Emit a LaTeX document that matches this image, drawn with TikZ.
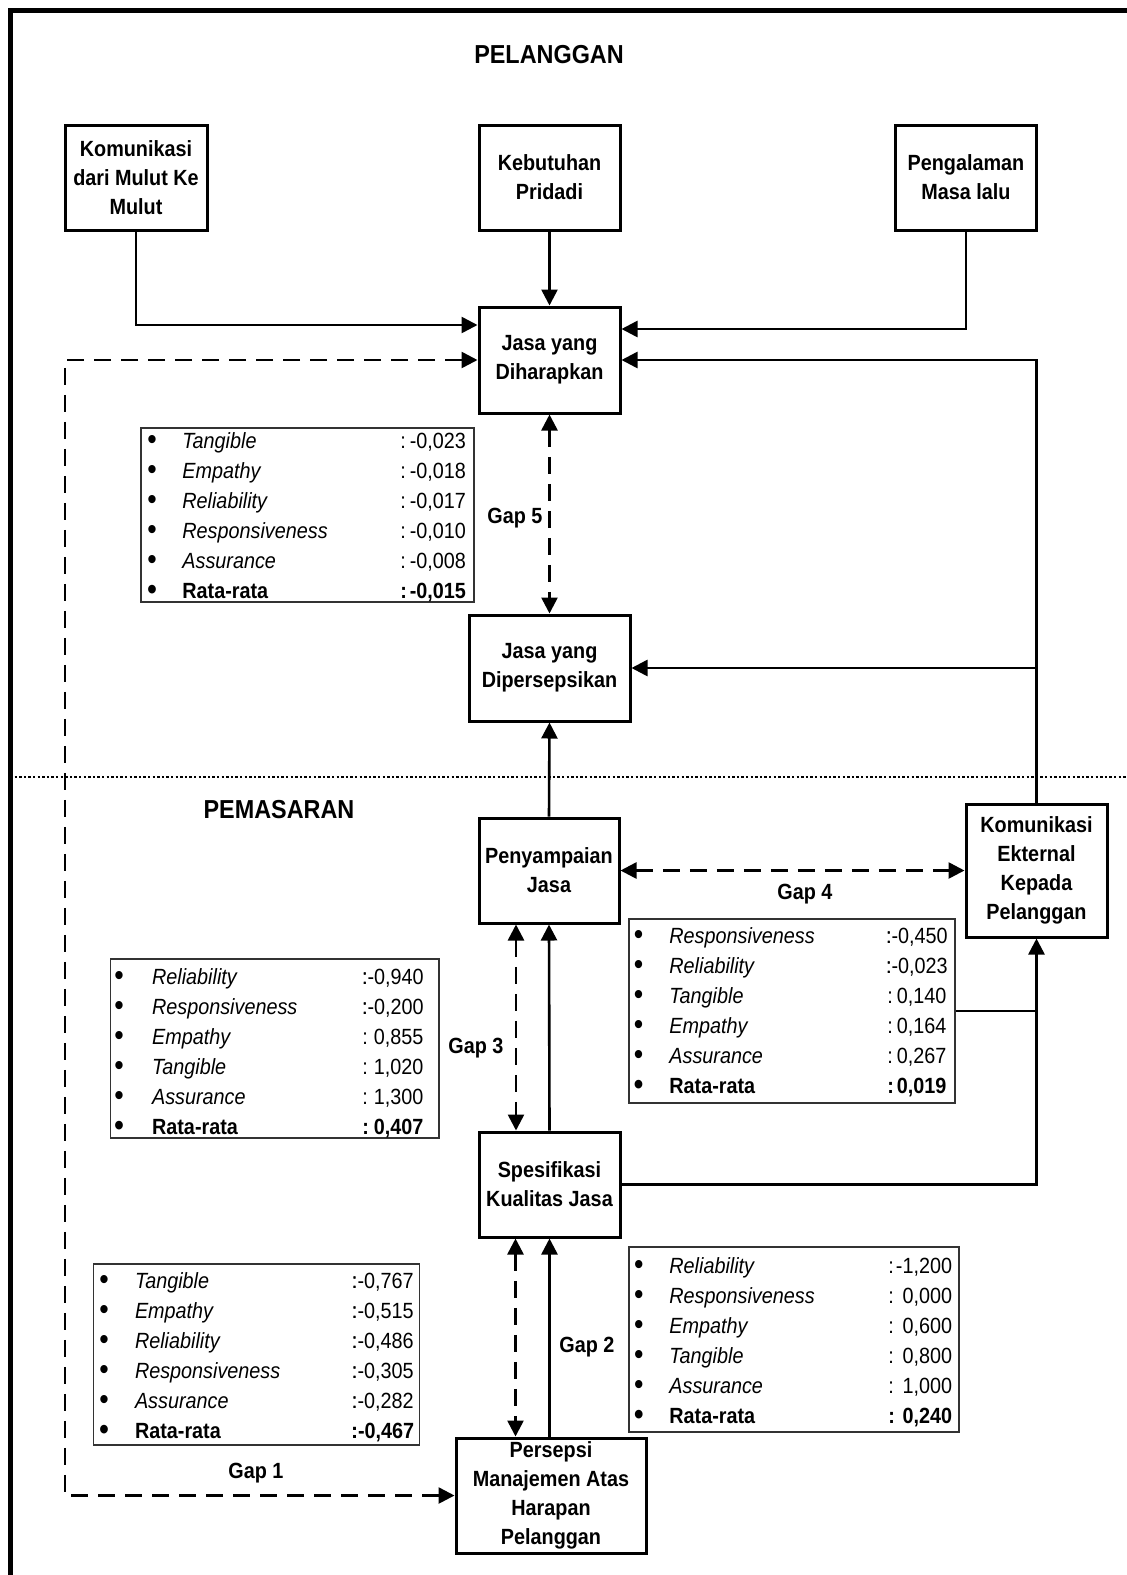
\documentclass[tikz,border=0pt]{standalone}
\usepackage{fontspec}
\setmainfont{Liberation Sans}[FakeStretch=0.9]
\usetikzlibrary{arrows.meta}
\newlength\bwid \newlength\nwid \newlength\cwid
\newcommand\tabset[3]{\setlength\bwid{#1pt}\setlength\nwid{#2pt}\setlength\cwid{#3pt}}
\newcommand\bigbul{\raisebox{-0.9pt}{\fontsize{15}{15}\selectfont\textbullet}}
\newcommand\trow[2]{\makebox[\bwid][l]{\bigbul}\makebox[\nwid][l]{\itshape #1}\makebox[\cwid]{:\hfill #2}}
\newcommand\brow[2]{\bfseries\makebox[\bwid][l]{\bigbul}\makebox[\nwid][l]{#1}\makebox[\cwid]{:\hfill #2}}
\begin{document}
\begin{tikzpicture}[x=0.5pt,y=-0.5pt,
  blk/.style={draw, line width=1.5pt, inner sep=0pt, align=center, font=\bfseries\fontsize{11}{14.5}\selectfont},
  tbl/.style={draw=black!80, line width=0.7pt, inner sep=0pt},
  ttxt/.style={anchor=base west, inner sep=0pt, font=\fontsize{11}{15}\selectfont},
  conn/.style={line width=1.3pt, -{Triangle[length=8pt,width=8pt]}},
  dconn/.style={line width=1.3pt, dash pattern=on 8.5pt off 5pt, {Triangle[length=8pt,width=8pt]}-{Triangle[length=8pt,width=8pt]}},
  lbl/.style={font=\bfseries\fontsize{11}{13}\selectfont, inner sep=0pt},
  ttl/.style={font=\bfseries\fontsize{13}{15}\selectfont, inner sep=0pt}]
\useasboundingbox (0,0) rectangle (1127,1575);
% frame and separator
\draw[line width=2.5pt] (10,1590) -- (10,10) -- (1140,10);
\draw[line width=1.4pt, dash pattern=on 1.2pt off 1.1pt] (10,777) -- (1127,777);
% titles
\node[ttl] (pel) at (549,55) {PELANGGAN};
\node[ttl] (pem) at (279,810) {PEMASARAN};
% boxes
\node[blk, minimum width=71pt, minimum height=52.5pt] (kom) at (136,177.5) {Komunikasi\\dari Mulut Ke\\Mulut};
\node[blk, minimum width=70.5pt, minimum height=52.5pt] (keb) at (549.5,177.5) {Kebutuhan\\Pridadi};
\node[blk, minimum width=70.5pt, minimum height=52.5pt] (pen) at (966,177.5) {Pengalaman\\Masa lalu};
\node[blk, minimum width=70.5pt, minimum height=53pt] (har) at (549.5,360) {Jasa yang\\Diharapkan};
\node[blk, minimum width=80.5pt, minimum height=53pt] (per) at (549.5,668) {Jasa yang\\Dipersepsikan};
\node[blk, minimum width=70pt, minimum height=52.5pt] (sam) at (549,870.5) {Penyampaian\\Jasa};
\node[blk, minimum width=70.5pt, minimum height=66.5pt] (ekt) at (1036.5,870.5) {Komunikasi\\Ekternal\\Kepada\\Pelanggan};
\node[blk, minimum width=70.5pt, minimum height=52.5pt] (spe) at (549.5,1184.5) {Spesifikasi\\Kualitas Jasa};
\node[blk, minimum width=95pt, minimum height=57.5pt] (psp) at (551,1495.5) {Persepsi\\Manajemen Atas\\Harapan\\Pelanggan};
% tables
\node[tbl, minimum width=166.5pt, minimum height=87pt] (t5) at (307.5,515) {};
\node[ttxt] (t5x) at (147,448) {\tabset{17.5}{109}{32.8}\begin{tabular}[t]{@{}l@{}}
\trow{Tangible}{-0,023}\\ \trow{Empathy}{-0,018}\\ \trow{Reliability}{-0,017}\\
\trow{Responsiveness}{-0,010}\\ \trow{Assurance}{-0,008}\\ \brow{Rata-rata}{-0,015}\end{tabular}};
\node[tbl, minimum width=163pt, minimum height=92pt] (t4) at (792,1011) {};
\node[ttxt] (t4x) at (633.5,943) {\tabset{17.75}{109}{29.5}\begin{tabular}[t]{@{}l@{}}
\trow{Responsiveness}{\llap{:}-0,450}\\ \trow{Reliability}{\llap{:}-0,023}\\ \trow{Tangible}{0,140}\\
\trow{Empathy}{0,164}\\ \trow{Assurance}{0,267}\\ \brow{Rata-rata}{0,019}\end{tabular}};
\node[tbl, minimum width=164.15pt, minimum height=89.5pt] (t3) at (274.85,1048.5) {};
\node[ttxt] (t3x) at (114,984) {\tabset{18.85}{105.15}{30.5}\begin{tabular}[t]{@{}l@{}}
\trow{Reliability}{\llap{:}-0,940}\\ \trow{Responsiveness}{\llap{:}-0,200}\\ \trow{Empathy}{0,855}\\
\trow{Tangible}{1,020}\\ \trow{Assurance}{1,300}\\ \brow{Rata-rata}{0,407}\end{tabular}};
\node[tbl, minimum width=165pt, minimum height=92.5pt] (t2) at (794,1339.5) {};
\node[ttxt] (t2x) at (633.7,1273) {\tabset{17.65}{109.5}{31.85}\begin{tabular}[t]{@{}l@{}}
\trow{Reliability}{-1,200}\\ \trow{Responsiveness}{0,000}\\ \trow{Empathy}{0,600}\\
\trow{Tangible}{0,800}\\ \trow{Assurance}{1,000}\\ \brow{Rata-rata}{0,240}\end{tabular}};
\node[tbl, minimum width=163pt, minimum height=90.5pt] (t1) at (256.7,1354.5) {};
\node[ttxt] (t1x) at (99,1288) {\tabset{17.8}{109.1}{29.6}\begin{tabular}[t]{@{}l@{}}
\trow{Tangible}{\llap{:}-0,767}\\ \trow{Empathy}{\llap{:}-0,515}\\ \trow{Reliability}{\llap{:}-0,486}\\
\trow{Responsiveness}{\llap{:}-0,305}\\ \trow{Assurance}{\llap{:}-0,282}\\ \brow{Rata-rata}{\llap{:}-0,467}\end{tabular}};
% gap labels
\node[lbl] (g5) at (515,518) {Gap 5};
\node[lbl] (g4) at (805,894) {Gap 4};
\node[lbl] (g3) at (476,1048) {Gap 3};
\node[lbl] (g2) at (587,1347) {Gap 2};
\node[lbl] (g1) at (256,1473) {Gap 1};
% connectors
\draw[conn] (kom.south) |- ([yshift=17.5pt]har.west);
\draw[conn] (keb.south) -- (har.north);
\draw[conn] (pen.south) |- ([yshift=15.5pt]har.east);
\draw[conn] (ekt.north) |- (har.east);
\draw[conn] (ekt.north |- per.east) -- (per.east);
\draw[dconn] (har.south) -- (per.north);
\draw[conn] (sam.north) -- (per.south);
\draw[dconn] (sam.east) -- (ekt.west);
\coordinate (g3a) at ([xshift=-16.5pt]sam.south);
\draw[dconn] (g3a) -- (g3a |- spe.north);
\draw[conn] (spe.north) -- (sam.south);
\coordinate (g2a) at ([xshift=-17pt]spe.south);
\draw[dconn] (g2a) -- (g2a |- psp.north);
\draw[conn] (spe.south |- psp.north) -- (spe.south);
\draw[conn] (spe.east) -| (ekt.south);
\draw[line width=0.7pt] (t4.east) -- (t4.east -| ekt.south);
\coordinate (lc) at (65,900);
\draw[dconn] (har.west) -| (lc) |- (psp.west);
\end{tikzpicture}
\end{document}
